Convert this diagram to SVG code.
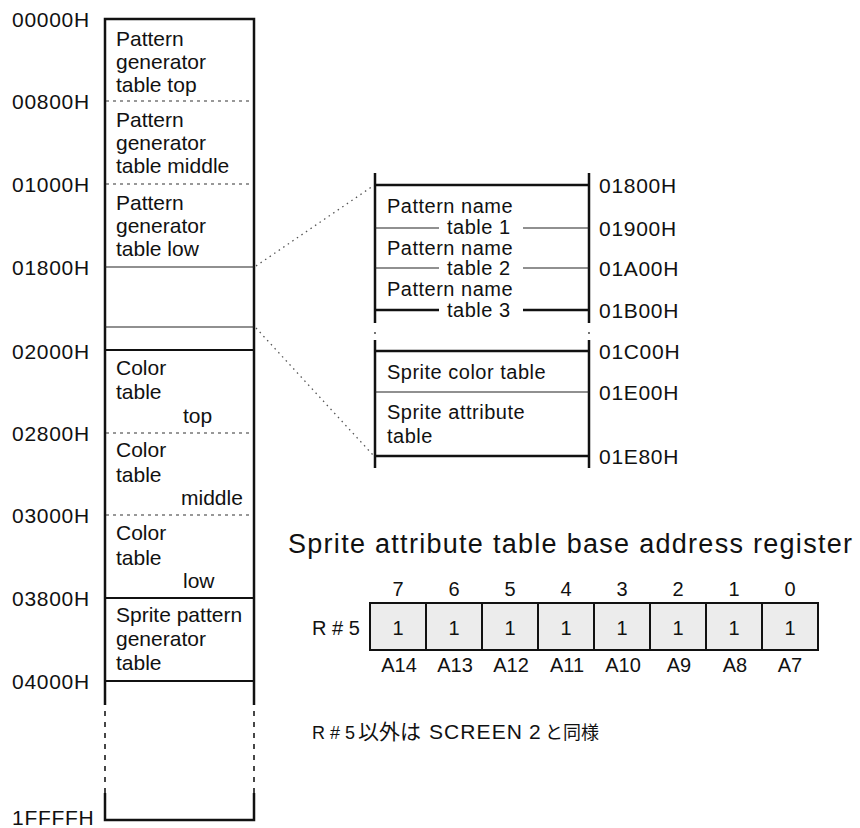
<svg xmlns="http://www.w3.org/2000/svg" width="860" height="828" viewBox="0 0 860 828">
<style>
text{font-family:"Liberation Sans","Noto Sans",Arial,sans-serif;fill:#111;}
.t{font-size:21px;}
.tr{font-size:20px;letter-spacing:0.5px;}
.lab{font-size:21px;letter-spacing:0.7px;}
.reg{font-size:20px;}
.bit{font-family:"DejaVu Sans",sans-serif;font-size:20px;}
.thick{stroke:#111;stroke-width:2.5;fill:none;}
.mid{stroke:#111;stroke-width:2;fill:none;}
.thin{stroke:#222;stroke-width:1.2;fill:none;}
.dash{stroke:#333;stroke-width:1.2;stroke-dasharray:3 4;fill:none;}
.vdash{stroke:#333;stroke-width:1.8;stroke-dasharray:5 6;fill:none;}
.dot{stroke:#555;stroke-width:1.3;stroke-dasharray:1.5 4;fill:none;}
.cell{fill:#ececec;stroke:#111;stroke-width:2;}
.jp{font-family:"Liberation Sans","Noto Sans CJK JP",sans-serif;font-size:19px;}
</style>
<rect width="860" height="828" fill="#fff"/>

<!-- left memory map outline -->
<g id="memory-map">
<path class="thick" d="M105 705 V19 H254 V705"/>
<path class="vdash" d="M105 711 V793 M254 711 V793"/>
<path class="thick" d="M105 793 V820 H254 V793"/>
<g class="lab">
<text x="12" y="27">00000H</text>
<text x="12" y="109">00800H</text>
<text x="12" y="192">01000H</text>
<text x="12" y="275">01800H</text>
<text x="12" y="359">02000H</text>
<text x="12" y="441">02800H</text>
<text x="12" y="523">03000H</text>
<text x="12" y="606">03800H</text>
<text x="12" y="689">04000H</text>
<text x="12" y="825">1FFFFH</text>
</g>
</g>

<g id="pg-top" class="t">
<text x="116" y="46">Pattern</text>
<text x="116" y="69">generator</text>
<text x="116" y="92">table top</text>
</g>
<g id="pg-middle">
<line class="dash" x1="106" y1="101" x2="253" y2="101"/>
<g class="t">
<text x="116" y="127">Pattern</text>
<text x="116" y="150">generator</text>
<text x="116" y="173">table middle</text>
</g>
</g>
<g id="pg-low">
<line class="dash" x1="106" y1="184" x2="253" y2="184"/>
<g class="t">
<text x="116" y="210">Pattern</text>
<text x="116" y="233">generator</text>
<text x="116" y="256">table low</text>
</g>
</g>
<g id="name-sprite-area">
<line class="thin" x1="105" y1="267" x2="254" y2="267"/>
<line class="thin" x1="105" y1="327" x2="254" y2="327"/>
</g>
<g id="color-top">
<line class="mid" x1="105" y1="350" x2="254" y2="350"/>
<g class="t">
<text x="116" y="375">Color</text>
<text x="116" y="399">table</text>
<text x="183" y="423">top</text>
</g>
</g>
<g id="color-middle">
<line class="dash" x1="106" y1="433" x2="253" y2="433"/>
<g class="t">
<text x="116" y="457">Color</text>
<text x="116" y="482">table</text>
<text x="181" y="505">middle</text>
</g>
</g>
<g id="color-low">
<line class="dash" x1="106" y1="515" x2="253" y2="515"/>
<g class="t">
<text x="116" y="540">Color</text>
<text x="116" y="565">table</text>
<text x="183" y="588">low</text>
</g>
</g>
<g id="sprite-pattern">
<line class="mid" x1="105" y1="598" x2="254" y2="598"/>
<g class="t">
<text x="116" y="622">Sprite pattern</text>
<text x="116" y="646">generator</text>
<text x="116" y="670">table</text>
</g>
<line class="mid" x1="105" y1="681" x2="254" y2="681"/>
</g>

<!-- connectors -->
<g id="connectors">
<line class="dot" x1="256" y1="266" x2="373" y2="186"/>
<line class="dot" x1="256" y1="328" x2="373" y2="455"/>
</g>

<!-- enlarged pattern name tables -->
<g id="pattern-name-tables">
<path class="thick" d="M375 173 V323 M589 173 V323"/>
<line class="thick" x1="375" y1="185" x2="589" y2="185"/>
<path class="thin" d="M375 228 H439 M523 228 H589 M375 268 H439 M523 268 H589"/>
<path class="thick" d="M375 310 H439 M523 310 H589"/>
<g class="tr">
<text x="387" y="213">Pattern name</text>
<text x="447" y="234">table 1</text>
<text x="387" y="255">Pattern name</text>
<text x="447" y="275">table 2</text>
<text x="387" y="296">Pattern name</text>
<text x="447" y="317">table 3</text>
</g>
<g class="lab">
<text x="599" y="193">01800H</text>
<text x="599" y="236">01900H</text>
<text x="599" y="276">01A00H</text>
<text x="599" y="318">01B00H</text>
</g>
<circle cx="375" cy="333" r="0.9" fill="#333"/>
<circle cx="589" cy="333" r="0.9" fill="#333"/>
</g>

<g id="sprite-tables">
<path class="thick" d="M375 340 V468 M589 340 V468"/>
<line class="thick" x1="375" y1="351" x2="589" y2="351"/>
<line class="thin" x1="375" y1="392" x2="589" y2="392"/>
<line class="thick" x1="375" y1="456" x2="589" y2="456"/>
<g class="tr">
<text x="387" y="379">Sprite color table</text>
<text x="387" y="419">Sprite attribute</text>
<text x="387" y="443">table</text>
</g>
<g class="lab">
<text x="599" y="359">01C00H</text>
<text x="599" y="400">01E00H</text>
<text x="599" y="464">01E80H</text>
</g>
</g>

<!-- register -->
<g id="register">
<text x="288" y="553" font-size="27" textLength="564" lengthAdjust="spacing">Sprite attribute table base address register</text>
<text class="reg" x="312" y="635">R # 5</text>
<g>
<rect class="cell" x="370" y="603" width="56" height="47"/>
<rect class="cell" x="426" y="603" width="56" height="47"/>
<rect class="cell" x="482" y="603" width="56" height="47"/>
<rect class="cell" x="538" y="603" width="56" height="47"/>
<rect class="cell" x="594" y="603" width="56" height="47"/>
<rect class="cell" x="650" y="603" width="56" height="47"/>
<rect class="cell" x="706" y="603" width="56" height="47"/>
<rect class="cell" x="762" y="603" width="56" height="47"/>
</g>
<g class="reg" text-anchor="middle">
<text x="398" y="596">7</text>
<text x="454" y="596">6</text>
<text x="510" y="596">5</text>
<text x="566" y="596">4</text>
<text x="622" y="596">3</text>
<text x="678" y="596">2</text>
<text x="734" y="596">1</text>
<text x="790" y="596">0</text>
</g>
<g class="bit" text-anchor="middle">
<text x="398" y="635">1</text>
<text x="454" y="635">1</text>
<text x="510" y="635">1</text>
<text x="566" y="635">1</text>
<text x="622" y="635">1</text>
<text x="678" y="635">1</text>
<text x="734" y="635">1</text>
<text x="790" y="635">1</text>
</g>
<g class="reg" text-anchor="middle">
<text x="399" y="672">A14</text>
<text x="455" y="672">A13</text>
<text x="511" y="672">A12</text>
<text x="567" y="672">A11</text>
<text x="623" y="672">A10</text>
<text x="679" y="672">A9</text>
<text x="735" y="672">A8</text>
<text x="790" y="672">A7</text>
</g>
</g>

<g id="note">
<text class="jp" y="739"><tspan x="312" font-size="18" style="font-family:'Liberation Sans',sans-serif">R # 5</tspan><tspan x="358" font-size="21">以外は</tspan><tspan x="429" font-size="21" textLength="93" lengthAdjust="spacing">SCREEN</tspan><tspan x="529" font-size="21">2</tspan><tspan x="545" font-size="18">と同様</tspan></text>
</g>
</svg>
